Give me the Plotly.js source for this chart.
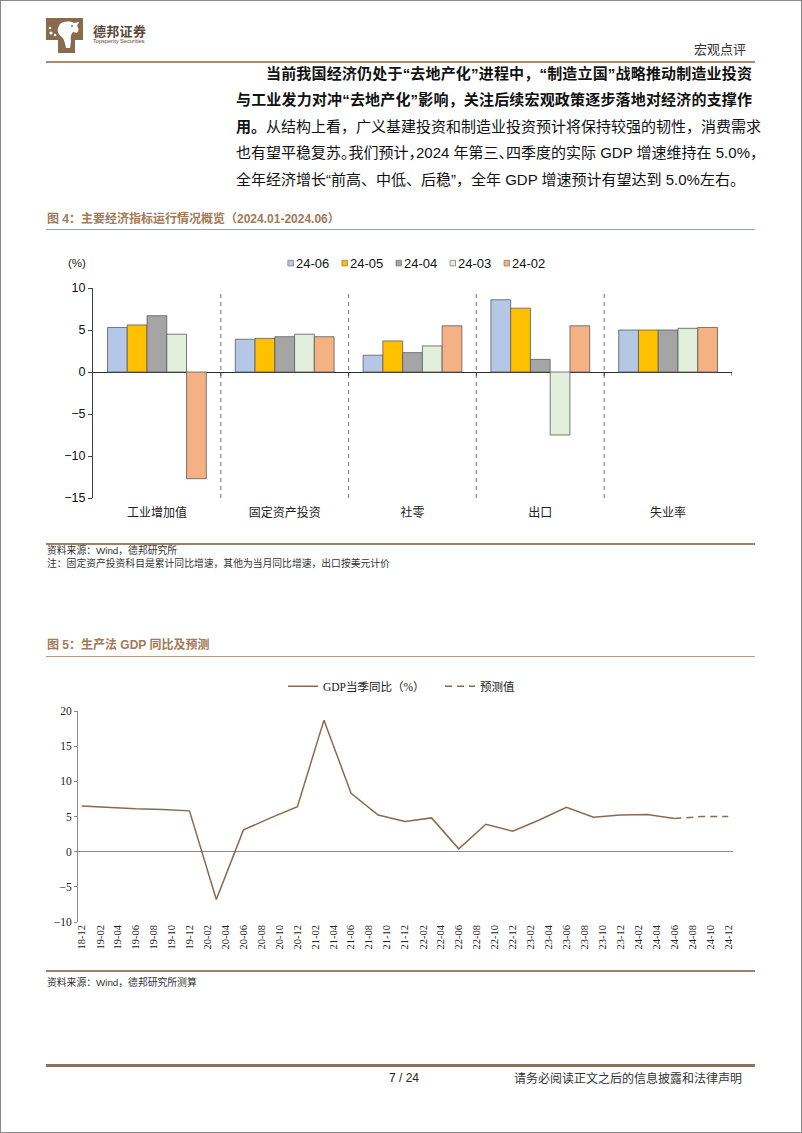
<!DOCTYPE html>
<html><head><meta charset="utf-8">
<script src="https://cdn.plot.ly/plotly-3.0.1.min.js"></script>
<style>
html,body{margin:0;padding:0;background:#fff;}
#page{position:relative;width:802px;height:1133px;overflow:hidden;background:#fff;font-family:"Liberation Sans","Noto Sans CJK SC",sans-serif;color:#111;}
#frame{position:absolute;left:0;top:0;width:802px;height:1133px;box-sizing:border-box;border:1px solid #8a8a8a;pointer-events:none;z-index:10;}
.abs{position:absolute;white-space:nowrap;}
.hl{position:absolute;left:46px;width:709px;}
.bt{position:absolute;font-size:15px;line-height:20px;height:20px;white-space:nowrap;text-align:justify;text-align-last:justify;color:#111;}
.ft{position:absolute;left:47px;font-size:12px;line-height:14px;font-weight:bold;color:#a27a58;white-space:nowrap;}
.src{position:absolute;left:47px;font-size:9.8px;line-height:12px;color:#333;white-space:nowrap;}
#c1{position:absolute;left:40px;top:235px;width:720px;height:300px;}
#c2{position:absolute;left:40px;top:660px;width:720px;height:300px;}
</style></head>
<body>
<div id="page">
  <svg class="abs" style="left:46px;top:18px" width="38" height="36" viewBox="0 0 38 36">
    <path d="M0,0 H37 V22 H29 V35 H12 V22 H0 Z" fill="#8a6a4d"/>
    <path d="M14,6 C18,3 24,3 28,5 L33,4 L31,8 C33,10 33,13 31,15 L27,14 C25,16 24,19 25,23 L24,30 L20,30 C19,25 18,21 16,19 C13,17 11,14 12,10 Z" fill="#fff"/>
    <circle cx="5" cy="15" r="1.6" fill="#fff"/><circle cx="9" cy="17" r="1.3" fill="#fff"/><circle cx="4" cy="10" r="1.2" fill="#fff"/>
    <circle cx="26" cy="8" r="1" fill="#8a6a4d"/>
  </svg>
  <div class="abs" style="left:93px;top:23px;font-size:13px;line-height:16px;font-weight:bold;color:#5a4838;font-family:'Noto Sans CJK SC';letter-spacing:0.3px">德邦证券</div>
  <div class="abs" style="left:93px;top:38px;font-size:5.6px;line-height:7px;color:#5a4838;">Topsperity Securities</div>
  <div class="abs" style="left:694px;top:40px;font-size:13px;line-height:17px;color:#333;font-family:'Noto Sans CJK SC'">宏观点评</div>
  <div class="hl" style="top:61px;height:2px;background:#a88a6e"></div>

  <div class="bt" style="left:266px;top:64px;width:486px;font-weight:bold">当前我国经济仍处于“去地产化”进程中，“制造立国”战略推动制造业投资</div>
  <div class="bt" style="left:236px;top:90px;width:516px;font-weight:bold">与工业发力对冲“去地产化”影响，关注后续宏观政策逐步落地对经济的支撑作</div>
  <div class="bt" style="left:236px;top:117px;width:516px;"><b>用。</b>从结构上看，广义基建投资和制造业投资预计将保持较强的韧性，消费需求</div>
  <div class="bt" style="left:236px;top:143px;width:516px;font-feature-settings:'halt';">也有望平稳复苏。我们预计，2024 年第三、四季度的实际 GDP 增速维持在 5.0%，</div>
  <div class="bt" style="left:236px;top:170px;width:516px;text-align:left;text-align-last:left;">全年经济增长“前高、中低、后稳”，全年 GDP 增速预计有望达到 5.0%左右。</div>

  <div class="ft" style="top:212px">图 4：主要经济指标运行情况概览（2024.01-2024.06）</div>
  <div class="hl" style="top:229px;height:1px;background:#b39a80"></div>
  <div id="c1"></div>
  <div class="hl" style="top:543px;height:2px;background:#9e8168"></div>
  <div class="src" style="top:545px">资料来源：Wind，德邦研究所</div>
  <div class="src" style="top:558px">注：固定资产投资科目是累计同比增速，其他为当月同比增速，出口按美元计价</div>

  <div class="ft" style="top:638px">图 5：生产法 GDP 同比及预测</div>
  <div class="hl" style="top:656px;height:1px;background:#b39a80"></div>
  <div id="c2"></div>
  <div class="hl" style="top:970px;height:2px;background:#9e8168"></div>
  <div class="src" style="top:977px">资料来源：Wind，德邦研究所测算</div>

  <div class="hl" style="top:1064px;height:3px;background:#8c7059"></div>
  <div class="abs" style="left:389px;top:1071px;font-size:12px;line-height:14px;color:#222">7 / 24</div>
  <div class="abs" style="left:514px;top:1070px;font-size:12px;line-height:16px;color:#333;font-family:'Noto Sans CJK SC'">请务必阅读正文之后的信息披露和法律声明</div>
  <div id="frame"></div>
</div>
<script>
// ---------- Figure 4 data ----------
const categories = ['工业增加值', '固定资产投资', '社零', '出口', '失业率'];
const seriesNames = ['24-06', '24-05', '24-04', '24-03', '24-02'];
const v2406 = [5.3, 3.9, 2.0, 8.6, 5.0];
const v2405 = [5.6, 4.0, 3.7, 7.6, 5.0];
const v2404 = [6.7, 4.2, 2.3, 1.5, 5.0];
const v2403 = [4.5, 4.5, 3.1, -7.5, 5.2];
const v2402 = [-12.7, 4.2, 5.5, 5.5, 5.3];
const yTicks1 = [-15, -10, -5, 0, 5, 10];

// ---------- Figure 5 data ----------
const gdpQuarters = ['2018-12','2019-03','2019-06','2019-09','2019-12','2020-03','2020-06','2020-09','2020-12',
  '2021-03','2021-06','2021-09','2021-12','2022-03','2022-06','2022-09','2022-12','2023-03','2023-06','2023-09',
  '2023-12','2024-03','2024-06'];
const gdpValues = [6.5, 6.3, 6.1, 6.0, 5.8, -6.8, 3.1, 4.8, 6.4, 18.7, 8.3, 5.2, 4.3, 4.8, 0.4, 3.9, 2.9, 4.5, 6.3, 4.9, 5.2, 5.3, 4.7];
const forecastQuarters = ['2024-06', '2024-09', '2024-12'];
const forecastValues = [4.7, 5.0, 5.0];
const yTicks2 = [-10, -5, 0, 5, 10, 15, 20];

// ---------- Figure 4 ----------
const barColors = ['#b4c7e7', '#ffc000', '#a5a5a5', '#e2efda', '#f4b183'];
const allSeries = [v2406, v2405, v2404, v2403, v2402];
const traces1 = allSeries.map((vals, i) => ({
  type: 'bar', x: categories, y: vals, name: seriesNames[i],
  marker: {color: barColors[i], line: {color: '#5a5a5a', width: 0.8}},
  showlegend: false, hoverinfo: 'skip'
}));

const W1 = 720, H1 = 300, M1 = {l: 53.3, r: 28.3, t: 53.3, b: 37.3};
const pw1 = W1 - M1.l - M1.r, ph1 = H1 - M1.t - M1.b;
const px1 = x => (x - M1.l) / pw1;
const py1 = y => 1 - (y - M1.t) / ph1;

const shapes1 = [];
const annotations1 = [];
for (let i = 0; i < categories.length - 1; i++) {
  shapes1.push({type: 'line', xref: 'x', yref: 'y', x0: i + 0.5, x1: i + 0.5, y0: -15, y1: 9.6,
    line: {color: '#8c8c8c', width: 1.2, dash: '4px,4px'}});
}
for (let i = 0; i < categories.length; i++) {
  shapes1.push({type: 'line', xref: 'x', yref: 'y', x0: i + 0.5, x1: i + 0.5, y0: 0, y1: -0.45,
    line: {color: '#303030', width: 1}});
}
const legX0 = 248, legStep = 54, legY = 28.5;
seriesNames.forEach((n, i) => {
  const x = legX0 + i * legStep;
  shapes1.push({type: 'rect', xref: 'paper', yref: 'paper', x0: px1(x), x1: px1(x + 5.5),
    y0: py1(legY + 2.8), y1: py1(legY - 2.8), fillcolor: barColors[i], line: {color: '#707070', width: 0.7}});
  annotations1.push({xref: 'paper', yref: 'paper', x: px1(x + 6), y: py1(legY), xanchor: 'left', yanchor: 'middle',
    text: n, showarrow: false, font: {family: 'Liberation Sans', size: 13, color: '#111'}});
});
annotations1.push({xref: 'paper', yref: 'paper', x: px1(26), y: py1(legY), xanchor: 'left', yanchor: 'middle',
  text: '(%)', showarrow: false, font: {family: 'Liberation Sans', size: 11.5, color: '#222'}});

const layout1 = {
  width: W1, height: H1, margin: M1, paper_bgcolor: '#fff', plot_bgcolor: '#fff',
  barmode: 'group', bargap: 0.227, bargroupgap: 0,
  xaxis: {type: 'category', range: [-0.5, 4.5], showline: false, ticks: '', showgrid: false, zeroline: false,
    ticklabelstandoff: 6, tickfont: {family: 'Noto Sans CJK SC', size: 12, color: '#222'}},
  yaxis: {range: [-15, 10], tickvals: yTicks1, showline: true, linecolor: '#404040', linewidth: 1,
    ticks: 'outside', ticklen: 4, tickcolor: '#404040', showgrid: false,
    zeroline: true, zerolinecolor: '#303030', zerolinewidth: 1,
    tickfont: {family: 'Liberation Sans', size: 12.5, color: '#111'}},
  shapes: shapes1, annotations: annotations1, showlegend: false
};
Plotly.newPlot('c1', traces1, layout1, {staticPlot: true, displayModeBar: false});

// ---------- Figure 5 ----------
const lineColor = '#8b6a4c';
const traces2 = [
  {type: 'scatter', mode: 'lines', x: gdpQuarters, y: gdpValues, name: 'GDP当季同比（%）',
    line: {color: lineColor, width: 1.5}, hoverinfo: 'skip'},
  {type: 'scatter', mode: 'lines', x: forecastQuarters, y: forecastValues, name: '预测值',
    line: {color: lineColor, width: 1.5, dash: '7px,5px'}, hoverinfo: 'skip'}
];
const W2 = 720, H2 = 300, M2 = {l: 38, r: 27, t: 49, b: 38.3};
const ph2 = H2 - M2.t - M2.b;
const layout2 = {
  width: W2, height: H2, margin: M2, paper_bgcolor: '#fff', plot_bgcolor: '#fff',
  xaxis: {type: 'date', range: ['2018-11-18', '2024-12-17'], tick0: '2018-12-01', dtick: 'M2', tickformat: '%y-%m',
    tickangle: -90, showline: false, ticks: '', showgrid: false, zeroline: false,
    tickfont: {family: 'Liberation Serif', size: 10.5, color: '#222'}},
  yaxis: {range: [-10, 20], tickvals: yTicks2, showline: true, linecolor: '#8a8a8a', linewidth: 1,
    ticks: 'outside', ticklen: 3, tickcolor: '#8a8a8a', showgrid: false,
    zeroline: true, zerolinecolor: '#8a8a8a', zerolinewidth: 1,
    tickfont: {family: 'Liberation Serif', size: 11.5, color: '#222'}},
  showlegend: true,
  legend: {orientation: 'h', x: (243 - M2.l) / (W2 - M2.l - M2.r), xanchor: 'left',
    y: 1 + (M2.t - 24) / ph2, yanchor: 'middle', bgcolor: 'rgba(0,0,0,0)', entrywidth: 112, entrywidthmode: 'pixels',
    font: {family: 'Liberation Serif, Noto Sans CJK SC', size: 11.5, color: '#222'}}
};
Plotly.newPlot('c2', traces2, layout2, {staticPlot: true, displayModeBar: false});
</script>
</body></html>
